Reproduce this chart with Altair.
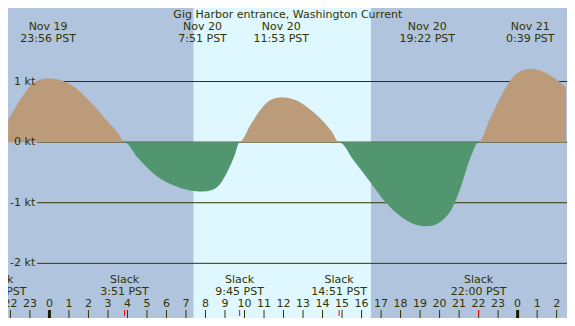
import altair as alt
import pandas as pd
import numpy as np

# ---- data ----
# hours relative to midnight Nov 20 (PST), current speed in knots (+ flood, - ebb)
hours = [-2.12, -1.29, -0.80, -0.05, 0.70, 1.19, 2.02, 2.85, 3.51, 3.85,
         4.51, 5.34, 6.17, 7.00, 7.83, 8.33, 8.82, 9.15, 9.48, 9.75,
         10.31, 10.81, 11.31, 11.88, 12.64, 13.30, 13.96, 14.46, 14.85,
         15.62, 16.45, 17.28, 18.11, 18.94, 19.37, 20.10, 20.60, 21.09, 21.59, 22.00,
         22.59, 23.25, 23.91, 24.65, 25.57, 26.48]
knots = [0.365, 0.80, 0.985, 1.055, 1.01, 0.93, 0.69, 0.39, 0.15, 0.0,
         -0.25, -0.52, -0.685, -0.78, -0.815, -0.79, -0.66, -0.47, -0.23, 0.0,
         0.285, 0.53, 0.69, 0.74, 0.69, 0.555, 0.365, 0.18, 0.0,
         -0.31, -0.66, -1.01, -1.25, -1.375, -1.39, -1.30, -1.115, -0.74, -0.25, 0.0,
         0.39, 0.82, 1.12, 1.21, 1.12, 0.905]

event_hours = [-0.067, 7.85, 11.883, 19.367, 24.65]
event_day = ["Nov 19", "Nov 20", "Nov 20", "Nov 20", "Nov 21"]
event_time = ["23:56 PST", "7:51 PST", "11:53 PST", "19:22 PST", "0:39 PST"]

slack_hours = [-2.6, 3.85, 9.75, 14.85, 22.0]
slack_time = ["21:24 PST", "3:51 PST", "9:45 PST", "14:51 PST", "22:00 PST"]

tick_hours = [-2, -1, 0, 1, 2, 3, 4, 5, 6, 7, 8, 9, 10, 11, 12, 13, 14, 15, 16,
              17, 18, 19, 20, 21, 22, 23, 24, 25, 26]
tick_labels = ["22", "23", "0", "1", "2", "3", "4", "5", "6", "7", "8", "9", "10",
               "11", "12", "13", "14", "15", "16", "17", "18", "19", "20", "21",
               "22", "23", "0", "1", "2"]
midnight_hours = [0, 24]

grid_values = [1, 0, -1, -2]
grid_labels = ["1 kt", "0 kt", "-1 kt", "-2 kt"]

day_start = [7.38]
day_end = [16.48]

title_text = "Gig Harbor entrance, Washington Current"

# ---- layout ----
W, H = 559, 310
sx = W / 575.0
PX_PER_KT = 61.0
ZERO_Y = 135.0
FONT = "DejaVu Sans"
FS = 11
TXT = "#333300"
NIGHT = "#b0c4de"
DAY = "#dff7fe"
FLOOD = "#bc9b7a"
EBB = "#52966f"

xs = alt.Scale(domain=[-2.124, 26.48], nice=False, zero=False)
ys = alt.Scale(domain=[(ZERO_Y - H) / PX_PER_KT, ZERO_Y / PX_PER_KT], nice=False, zero=False)

curve = pd.DataFrame({"h": hours, "v": knots})
curve["flood"] = np.clip(curve["v"], 0, None)
curve["ebb"] = np.clip(curve["v"], None, 0)
curve["zero"] = 0.0

events = pd.DataFrame({"h": event_hours, "day": event_day, "t": event_time})
slacks = pd.DataFrame({"h": slack_hours, "t": slack_time, "s": ["Slack"] * len(slack_hours)})
ticks = pd.DataFrame({"h": tick_hours, "lab": tick_labels})
mids = pd.DataFrame({"h": midnight_hours})
grid = pd.DataFrame({"v": grid_values, "lab": grid_labels})
day = pd.DataFrame({"a": day_start, "b": day_end})
title = pd.DataFrame({"t": [title_text]})


def X(f):
    return alt.X(f, type="quantitative", scale=xs, axis=None)


def Y(f):
    return alt.Y(f, type="quantitative", scale=ys, axis=None)


def txt(**kw):
    base = dict(font=FONT, fontSize=FS, color=TXT, align="center", baseline="alphabetic")
    base.update(kw)
    return base


day_rect = alt.Chart(day).mark_rect(color=DAY).encode(
    x=X("a"), x2="b", y=alt.value(0), y2=alt.value(H))

grid_rules = alt.Chart(grid).mark_rule(color=TXT, strokeWidth=1).encode(
    y=Y("v"), x=alt.value(30 * sx), x2=alt.value(W))

flood_area = alt.Chart(curve).mark_area(color=FLOOD, interpolate="monotone").encode(
    x=X("h"), y=Y("flood"), y2="zero")
ebb_area = alt.Chart(curve).mark_area(color=EBB, interpolate="monotone").encode(
    x=X("h"), y=Y("ebb"), y2="zero")

grid_text = alt.Chart(grid).mark_text(**txt(align="right", baseline="middle")).encode(
    y=Y("v"), x=alt.value(28 * sx), text="lab")

title_mark = alt.Chart(title).mark_text(**txt()).encode(
    x=alt.value(287.8 * sx), y=alt.value(10), text="t")

ev_day = alt.Chart(events).mark_text(**txt(clip=True)).encode(
    x=X("h"), y=alt.value(22), text="day")
ev_time = alt.Chart(events).mark_text(**txt(clip=True)).encode(
    x=X("h"), y=alt.value(34), text="t")

sl_word = alt.Chart(slacks).mark_text(**txt(clip=True)).encode(
    x=X("h"), y=alt.value(H - 35), text="s")
sl_time = alt.Chart(slacks).mark_text(**txt(clip=True)).encode(
    x=X("h"), y=alt.value(H - 23), text="t")

hour_text = alt.Chart(ticks).mark_text(**txt(clip=True)).encode(
    x=X("h"), y=alt.value(H - 11), text="lab")

hour_ticks = alt.Chart(ticks).mark_rule(color=TXT, strokeWidth=1).encode(
    x=X("h"), y=alt.value(H - 8), y2=alt.value(H))
mid_ticks = alt.Chart(mids).mark_rule(color="#1a1a00", strokeWidth=3).encode(
    x=X("h"), y=alt.value(H - 8), y2=alt.value(H))
slack_ticks = alt.Chart(slacks).mark_rule(color="#ff0000", strokeWidth=1, clip=True).encode(
    x=X("h"), y=alt.value(H - 8), y2=alt.value(H))

chart = alt.layer(
    day_rect, grid_rules, flood_area, ebb_area, grid_text, title_mark,
    ev_day, ev_time, sl_word, sl_time, hour_text, hour_ticks, mid_ticks, slack_ticks
).properties(
    width=W, height=H,
    autosize=alt.AutoSizeParams(type="fit", contains="padding"),
    padding=0,
    background=NIGHT,
).configure_view(strokeWidth=0)

chart.save("out.html", embed_options={"renderer": "svg", "actions": False})
